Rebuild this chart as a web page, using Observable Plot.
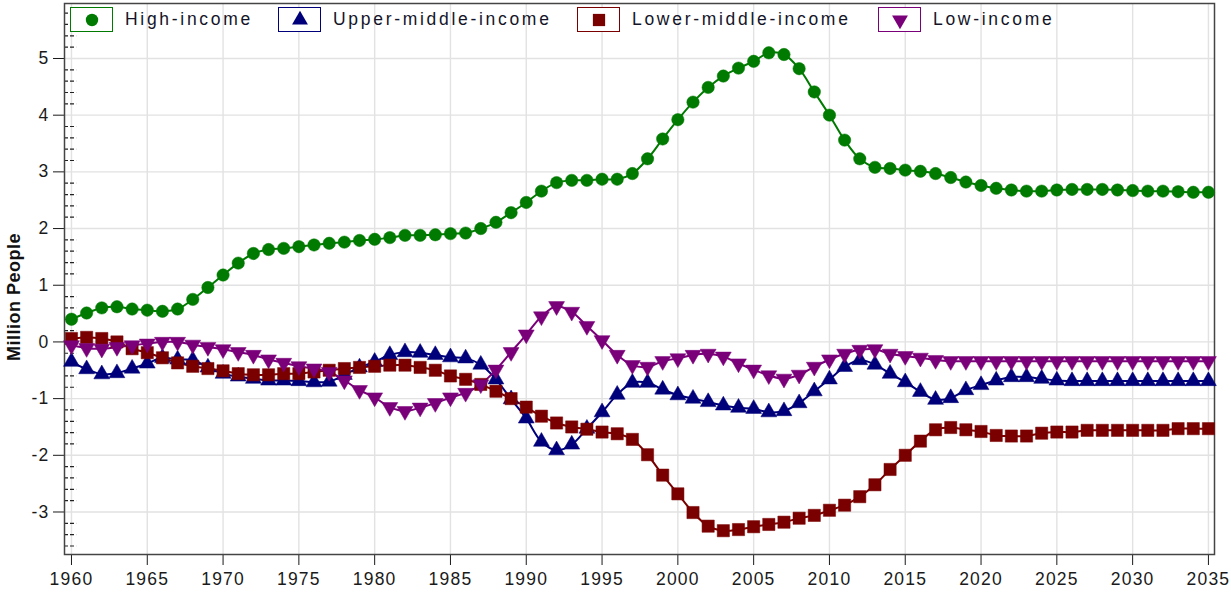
<!DOCTYPE html>
<html>
<head>
<meta charset="utf-8">
<script src="https://cdn.jsdelivr.net/npm/d3@7"></script>
<script src="https://cdn.jsdelivr.net/npm/@observablehq/plot@0.6"></script>
<style>
  html, body { margin: 0; padding: 0; background: #fff; }
  #wrap { position: relative; width: 1231px; height: 592px; font-family: "Liberation Sans", Arial, sans-serif; }
  #legend { position: absolute; left: 0; top: 0; width: 1231px; height: 40px; pointer-events: none; }
  .item { position: absolute; top: 7px; height: 25px; display: flex; align-items: center; white-space: nowrap; }
  .box { width: 43px; height: 25px; border: 1px solid; background: #fff; box-sizing: border-box; display: flex; align-items: center; justify-content: center; }
  .lbl { font-size: 17.5px; letter-spacing: 2.7px; color: #141428; margin-left: 12px; }
  #ylab { position: absolute; left: 14px; top: 297px; transform: translate(-50%, -50%) rotate(-90deg); font-size: 18px; letter-spacing: 0.5px; font-weight: bold; color: #111; white-space: nowrap; }
</style>
</head>
<body>
<div id="wrap">
  <div id="chart"></div>
  <div id="legend"></div>
  <div id="ylab">Million People</div>
</div>
<script>
// ---- data ----
const years = [1960,1961,1962,1963,1964,1965,1966,1967,1968,1969,
  1970,1971,1972,1973,1974,1975,1976,1977,1978,1979,
  1980,1981,1982,1983,1984,1985,1986,1987,1988,1989,
  1990,1991,1992,1993,1994,1995,1996,1997,1998,1999,
  2000,2001,2002,2003,2004,2005,2006,2007,2008,2009,
  2010,2011,2012,2013,2014,2015,2016,2017,2018,2019,
  2020,2021,2022,2023,2024,2025,2026,2027,2028,2029,
  2030,2031,2032,2033,2034,2035];

const seriesNames = ["High-income", "Upper-middle-income", "Lower-middle-income", "Low-income"];
const seriesColors = ["#007a00", "#00007a", "#7a0000", "#7a007a"];

const highIncome = [0.40,0.51,0.60,0.62,0.58,0.56,0.54,0.58,0.75,0.96,
  1.18,1.39,1.56,1.63,1.65,1.68,1.71,1.74,1.76,1.79,
  1.81,1.84,1.88,1.88,1.89,1.91,1.92,2.00,2.11,2.28,
  2.46,2.66,2.81,2.85,2.85,2.87,2.87,2.97,3.23,3.58,
  3.92,4.23,4.49,4.69,4.83,4.95,5.10,5.07,4.82,4.41,
  4.00,3.56,3.23,3.08,3.06,3.03,3.01,2.97,2.90,2.82,
  2.76,2.71,2.68,2.66,2.66,2.68,2.69,2.69,2.69,2.68,
  2.67,2.66,2.66,2.65,2.64,2.64];

const upperMiddle = [-0.35,-0.48,-0.57,-0.55,-0.47,-0.38,-0.28,-0.31,-0.32,-0.45,
  -0.56,-0.61,-0.65,-0.68,-0.68,-0.69,-0.71,-0.70,-0.58,-0.45,
  -0.35,-0.23,-0.18,-0.19,-0.23,-0.27,-0.29,-0.40,-0.66,-1.01,
  -1.35,-1.76,-1.91,-1.81,-1.53,-1.24,-0.93,-0.72,-0.72,-0.84,
  -0.94,-1.00,-1.06,-1.12,-1.16,-1.18,-1.24,-1.22,-1.08,-0.87,
  -0.66,-0.44,-0.32,-0.40,-0.56,-0.71,-0.88,-1.02,-0.99,-0.85,
  -0.76,-0.68,-0.62,-0.62,-0.65,-0.68,-0.69,-0.69,-0.69,-0.69,
  -0.69,-0.69,-0.69,-0.69,-0.69,-0.69];

const lowerMiddle = [0.06,0.08,0.06,0.00,-0.12,-0.19,-0.28,-0.37,-0.43,-0.47,
  -0.51,-0.56,-0.58,-0.58,-0.56,-0.56,-0.53,-0.50,-0.47,-0.45,
  -0.43,-0.41,-0.41,-0.45,-0.50,-0.60,-0.66,-0.75,-0.87,-1.00,
  -1.15,-1.31,-1.43,-1.50,-1.54,-1.59,-1.62,-1.72,-1.99,-2.35,
  -2.68,-3.01,-3.25,-3.33,-3.31,-3.26,-3.22,-3.18,-3.11,-3.06,
  -2.97,-2.88,-2.73,-2.52,-2.25,-2.00,-1.75,-1.55,-1.51,-1.55,
  -1.58,-1.65,-1.66,-1.66,-1.61,-1.59,-1.59,-1.56,-1.56,-1.56,
  -1.56,-1.56,-1.56,-1.53,-1.53,-1.53];

const lowIncome = [-0.06,-0.11,-0.12,-0.09,-0.06,-0.03,0.00,0.00,-0.05,-0.09,
  -0.13,-0.18,-0.23,-0.31,-0.37,-0.43,-0.47,-0.53,-0.68,-0.85,
  -0.98,-1.15,-1.22,-1.16,-1.08,-0.98,-0.90,-0.75,-0.49,-0.18,
  0.13,0.45,0.63,0.53,0.28,0.03,-0.23,-0.41,-0.44,-0.34,
  -0.29,-0.23,-0.21,-0.26,-0.38,-0.49,-0.59,-0.65,-0.58,-0.44,
  -0.31,-0.21,-0.14,-0.13,-0.21,-0.25,-0.28,-0.32,-0.34,-0.34,
  -0.34,-0.34,-0.34,-0.34,-0.34,-0.34,-0.34,-0.34,-0.34,-0.34,
  -0.34,-0.34,-0.34,-0.34,-0.34,-0.34];

const xTicks = [1960,1965,1970,1975,1980,1985,1990,1995,2000,2005,2010,2015,2020,2025,2030,2035];
const yTicks = [-3,-2,-1,0,1,2,3,4,5];
const yMinorTicks = [-3.6,-3.4,-3.2,-2.8,-2.6,-2.4,-2.2,-1.8,-1.6,-1.4,-1.2,-0.8,-0.6,-0.4,-0.2,
  0.2,0.4,0.6,0.8,1.2,1.4,1.6,1.8,2.2,2.4,2.6,2.8,3.2,3.4,3.6,3.8,4.2,4.4,4.6,4.8,5.2,5.4,5.6,5.8];

// ---- build ----
const seriesValues = [highIncome, upperMiddle, lowerMiddle, lowIncome];
const symbols = ["circle", "triangle", "square", "triangle"];
const rotations = [0, 0, 0, 180];
const radii = [6.2, 5.9, 6.9, 5.9];

const xDomain = [1959.54, 2035.4];
const yDomain = [-3.75, 5.97];

const tables = seriesValues.map((vals, i) => years.map((yr, j) => ({year: yr, value: vals[j], series: seriesNames[i]})));

const marks = [
  Plot.ruleX(xTicks, {stroke: "#e2e2e2", strokeWidth: 1.4}),
  Plot.ruleY(yTicks, {stroke: "#e2e2e2", strokeWidth: 1.4}),
  Plot.ruleY(yMinorTicks, {x1: xDomain[0], x2: xDomain[0] + 0.8, stroke: "#222", strokeWidth: 1.2, strokeDasharray: "4,2"}),
  Plot.frame({stroke: "#444", strokeWidth: 1.5}),
  // tick labels as text marks (explicit size)
  Plot.text(xTicks, {x: d => d, text: d => String(d), frameAnchor: "bottom", dy: 25, fontSize: 17.5, fill: "#1a1a1a", lineAnchor: "middle"}),
  Plot.text(yTicks, {y: d => d, text: d => String(d), frameAnchor: "left", dx: -15, textAnchor: "end", fontSize: 17.5, fill: "#1a1a1a"})
];
tables.forEach((t, i) => {
  marks.push(Plot.line(t, {x: "year", y: "value", stroke: seriesColors[i], strokeWidth: 2, curve: "catmull-rom"}));
});
tables.forEach((t, i) => {
  marks.push(Plot.dot(t, {x: "year", y: "value", symbol: symbols[i], rotate: rotations[i], r: radii[i], fill: seriesColors[i], stroke: seriesColors[i], strokeWidth: 0.5}));
});

const chart = Plot.plot({
  width: 1231,
  height: 592,
  marginLeft: 64,
  marginRight: 17,
  marginTop: 3,
  marginBottom: 38,
  style: {fontFamily: "'Liberation Sans', Arial, sans-serif", fontSize: "17px", color: "#1a1a1a", background: "#fff", overflow: "visible"},
  x: {domain: xDomain, ticks: xTicks, tickFormat: () => "", tickSize: 11, label: null},
  y: {domain: yDomain, ticks: yTicks, tickFormat: () => "", tickSize: 11, label: null},
  marks
});
d3.select(chart).selectAll("text").attr("letter-spacing", "1.2");
document.getElementById("chart").appendChild(chart);

// ---- legend ----
const legendLeft = [70, 278, 577, 878];
const legend = document.getElementById("legend");
seriesNames.forEach((name, i) => {
  const item = document.createElement("div");
  item.className = "item";
  item.style.left = legendLeft[i] + "px";
  const box = document.createElement("div");
  box.className = "box";
  box.style.borderColor = seriesColors[i];
  const symType = [d3.symbolCircle, d3.symbolTriangle, d3.symbolSquare, d3.symbolTriangle][i];
  const path = d3.symbol().type(symType).size(Math.PI * radii[i] * radii[i])();
  box.innerHTML = `<svg width="20" height="20" viewBox="-10 -10 20 20"><path d="${path}" fill="${seriesColors[i]}" transform="rotate(${rotations[i]})"/></svg>`;
  const lbl = document.createElement("span");
  lbl.className = "lbl";
  lbl.textContent = name;
  item.appendChild(box);
  item.appendChild(lbl);
  legend.appendChild(item);
});
</script>
</body>
</html>
